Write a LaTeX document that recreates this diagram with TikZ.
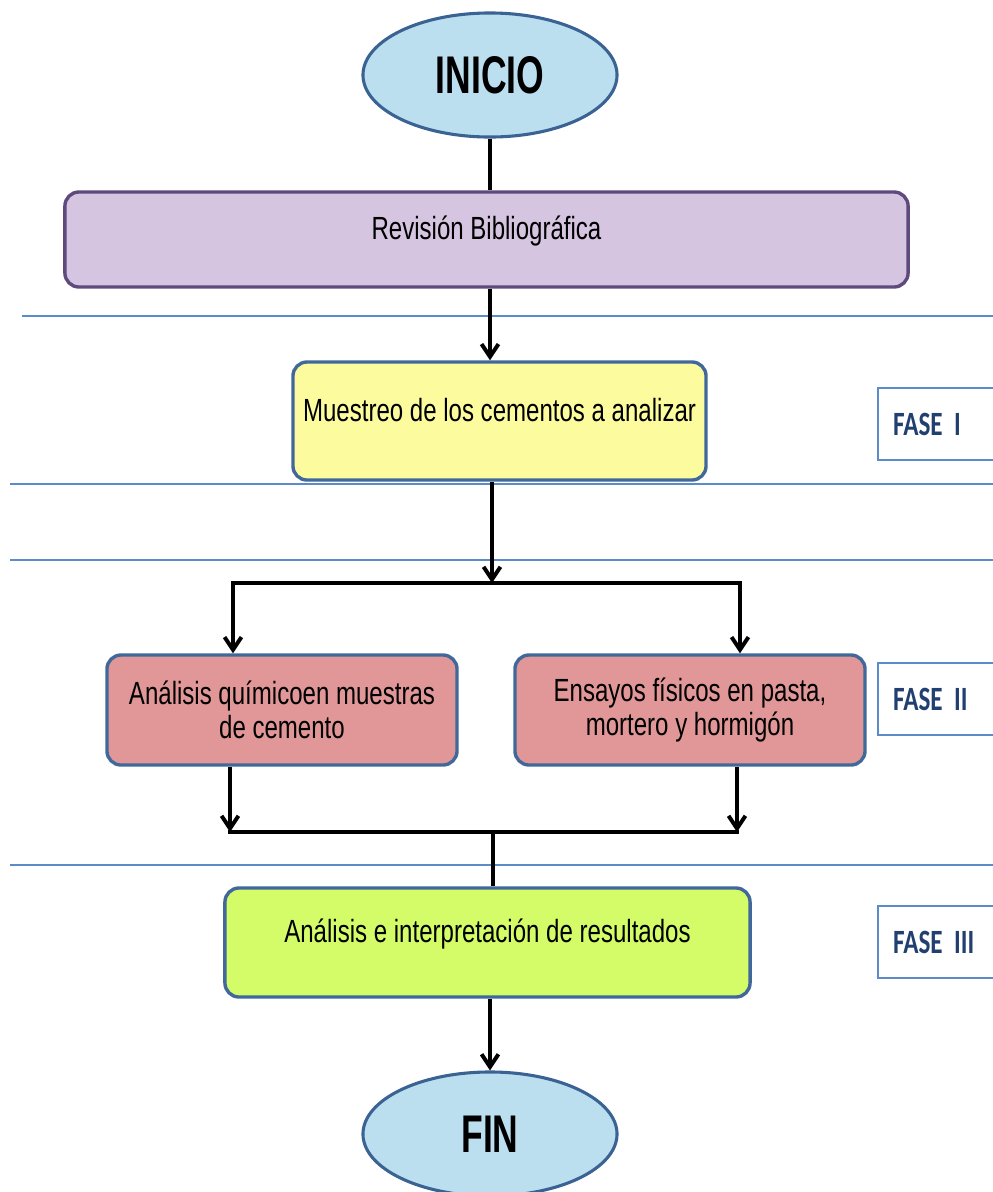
\documentclass[tikz,border=0pt]{standalone}
\usepackage{fontspec}
\setmainfont{Liberation Sans}[FakeStretch=0.75]
\newfontfamily\titlefont{Liberation Sans}[FakeStretch=0.67]
\newfontfamily\fasefont{Carlito}[FakeStretch=0.74]
\usetikzlibrary{
    arrows.meta,      % For arrow tips
    shapes.geometric, % For the start/end ovals
    positioning
}

\definecolor{ovalfill}{HTML}{BCDFEF}
\definecolor{ovalline}{HTML}{3A6394}
\definecolor{boxline}{HTML}{41689A}
\definecolor{revfill}{HTML}{D6C5E0}
\definecolor{revline}{HTML}{5E4A7C}
\definecolor{yellowfill}{HTML}{FCFC9E}
\definecolor{redfill}{HTML}{E19797}
\definecolor{greenfill}{HTML}{D3FC68}
\definecolor{phaseline}{HTML}{5B8BC8}
\definecolor{fasetext}{HTML}{22406F}

\begin{document}
\begin{tikzpicture}[
    x=0.025cm, y=-0.025cm, % pixel grid of the sketch
    >={Straight Barb[length=9pt,width=12pt]}, % Default arrow tip
    oval/.style={ellipse, draw=ovalline, fill=ovalfill, line width=2.2pt,
        inner sep=0pt, minimum width=6.35cm, minimum height=3.1cm,
        font=\titlefont\bfseries\fontsize{37.7}{40}\selectfont},
    box/.style={rectangle, rounded corners=10pt, draw=boxline, line width=2.4pt,
        inner sep=0pt, align=center, font=\fontsize{22.8}{24.2}\selectfont},
    raised/.style={text height=16pt, text depth=16pt}, % text sits above the middle
    fase/.style={rectangle, draw=phaseline, fill=white, line width=1.6pt,
        anchor=west, minimum height=1.8cm, inner xsep=0.375cm, text width=2.5cm,
        align=left, text=fasetext,
        font={\fasefont\bfseries\fontsize{24.2}{26}\selectfont\spaceskip=0.12em\relax}},
    link/.style={line width=2.8pt, line join=miter}, % Connectors
    phase/.style={draw=phaseline, line width=1.3pt}  % Phase separators
]
    \useasboundingbox (0,0) rectangle (993,1192);

    % Phase separators
    \foreach \x/\y in {22/316, 10/484, 10/560, 10/865}
        \draw[phase] (\x,\y) -- (993,\y);

    % Start and end
    \node[oval] (inicio) at (490,75) {INICIO};
    \node[oval] (fin) at (490,1134) {FIN};

    % Steps
    \node[box, raised, fill=revfill, draw=revline, minimum width=21.075cm,
        minimum height=2.375cm] (revision) at (486.5,239.5) {Revisión Bibliográfica};
    \node[box, raised, fill=yellowfill, minimum width=10.325cm,
        minimum height=2.95cm] (muestreo) at (499.5,421) {Muestreo de los cementos a analizar};
    \node[box, fill=redfill, minimum width=8.75cm, minimum height=2.75cm]
        (quimico) at (282,710) {Análisis químicoen muestras\\de cemento};
    \node[box, fill=redfill, minimum width=8.75cm, minimum height=2.75cm]
        (fisico) at (690,710) {Ensayos físicos en pasta,\\mortero y hormigón};
    \node[box, raised, fill=greenfill, minimum width=13.125cm,
        minimum height=2.725cm] (analisis) at (487.5,942.5) {Análisis e interpretación de resultados};

    % Phase labels
    \node[fase] (fase1) at (877,424) {FASE I};
    \node[fase] (fase2) at (877,699) {FASE II};
    \node[fase] (fase3) at (877,942) {FASE III};

    % Branch points
    \coordinate (split) at (492,583);
    \coordinate (splitL) at (233,583);
    \coordinate (splitR) at (740,583);
    \coordinate (join) at (493,832);
    \coordinate (joinL) at (230,832);
    \coordinate (joinR) at (737,832);

    % Connectors
    \draw[link] (inicio.south) -- (inicio.south |- revision.north);
    \draw[link, ->] (inicio.south |- revision.south) -- (inicio.south |- muestreo.north);
    \draw[link, ->] (split |- muestreo.south) -- (split);
    \draw[link, <->] (splitL |- quimico.north) -- (splitL) -- (splitR) -- (splitR |- fisico.north);
    \draw[link, ->] (joinL |- quimico.south) -- (joinL);
    \draw[link, ->] (joinR |- fisico.south) -- (joinR);
    \draw[link, line cap=rect] (joinL) -- (joinR);
    \draw[link] (join) -- (join |- analisis.north);
    \draw[link, ->] (fin.north |- analisis.south) -- (fin.north);

\end{tikzpicture}
\end{document}
